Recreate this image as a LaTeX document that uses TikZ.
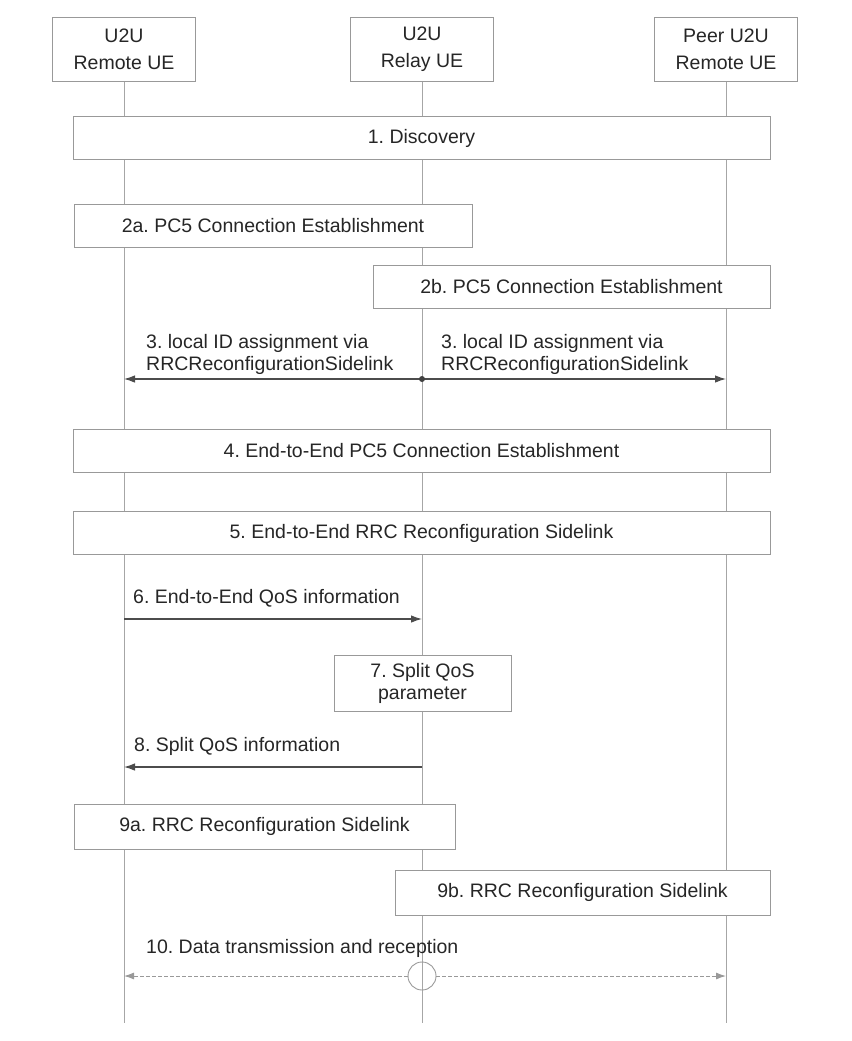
\documentclass[tikz,border=0pt]{standalone}
\usepackage{fontspec}
\setmainfont{Liberation Sans}
\usetikzlibrary{arrows.meta}
\frenchspacing

\begin{document}
\begin{tikzpicture}[x=1pt, y=-1pt,
  every node/.style={font=\fontsize{19.5}{22}\selectfont, text=black!85},
  entity/.style={draw=gray!80, fill=white, line width=1pt, minimum width=143pt, minimum height=64pt, align=center, font=\fontsize{19.5}{27}\selectfont},
  stepbox/.style={draw=gray!80, fill=white, line width=1pt, minimum height=43pt, inner sep=0pt, align=center},
  msg/.style={inner sep=0pt, align=left},
  life/.style={draw=gray!70, line width=0.9pt},
  msgarrow/.style={draw=black!70, line width=1.1pt, -{Latex[length=11pt,width=7.5pt]}},
  dataarrow/.style={draw=gray!80, line width=1pt, dash pattern=on 4pt off 2pt, -{Latex[length=10pt,width=7pt]}}]
\useasboundingbox (0,0) rectangle (851,1041);

% lifelines
\node[entity] (ue) at (124, 49.5) {U2U\\Remote UE};
\node[entity] (relay) at (422, 49.5) {U2U\\Relay UE};
\node[entity] (peer) at (726, 49.5) {Peer U2U\\Remote UE};
\coordinate (ueEnd) at (124, 1023);
\coordinate (relayEnd) at (422, 1023);
\coordinate (peerEnd) at (726, 1023);
\draw[life] (ue) -- (ueEnd);
\draw[life] (relay) -- (relayEnd);
\draw[life] (peer) -- (peerEnd);

% procedures
\node[stepbox, minimum width=697pt] (discovery) at (421.5, 138) {1. Discovery};
\node[stepbox, minimum width=398pt] (pcA) at (273, 226) {2a. PC5 Connection Establishment};
\node[stepbox, minimum width=397pt] (pcB) at (571.5, 287) {2b. PC5 Connection Establishment};
\node[stepbox, minimum width=697pt] (etePC) at (421.5, 451) {4. End-to-End PC5 Connection Establishment};
\node[stepbox, minimum width=697pt] (eteRRC) at (421.5, 533) {5. End-to-End RRC Reconfiguration Sidelink};
\node[stepbox, minimum width=177pt, minimum height=56pt] (split) at (422.5, 683) {7. Split QoS\\parameter};
\node[stepbox, minimum width=381pt, minimum height=45pt] (rrcA) at (264.5, 826.5) {9a. RRC Reconfiguration Sidelink};
\node[stepbox, minimum width=375pt, minimum height=45pt] (rrcB) at (582.5, 892.5) {9b. RRC Reconfiguration Sidelink};

% 3. local ID assignment
\coordinate (ue3) at (124, 379);
\coordinate (relay3) at (422, 379);
\coordinate (peer3) at (726, 379);
\draw[msgarrow] (relay3) -- (ue3);
\draw[msgarrow] (relay3) -- (peer3);
\fill[black!75] (relay3) circle (3pt);
\node[msg, anchor=south west] (idA) at (146, 375) {3. local ID assignment via\\RRCReconfigurationSidelink};
\node[msg, anchor=south west] (idB) at (441, 375) {3. local ID assignment via\\RRCReconfigurationSidelink};

% 6. and 8.
\coordinate (ue6) at (124, 619);
\coordinate (relay6) at (422, 619);
\draw[msgarrow] (ue6) -- (relay6);
\node[msg, anchor=base west] (qosE) at (133, 603) {6. End-to-End QoS information};
\coordinate (ue8) at (124, 767);
\coordinate (relay8) at (422, 767);
\draw[msgarrow] (relay8) -- (ue8);
\node[msg, anchor=base west] (qosS) at (134, 751) {8. Split QoS information};

% 10. data
\node[circle, draw=gray!80, line width=0.9pt, minimum size=28pt, inner sep=0pt] (join) at (422, 976) {};
\coordinate (ue10) at (124, 976);
\coordinate (peer10) at (726, 976);
\draw[dataarrow] (join) -- (ue10);
\draw[dataarrow] (join) -- (peer10);
\node[msg, anchor=base west] (data) at (146, 953) {10. Data transmission and reception};
\end{tikzpicture}
\end{document}
